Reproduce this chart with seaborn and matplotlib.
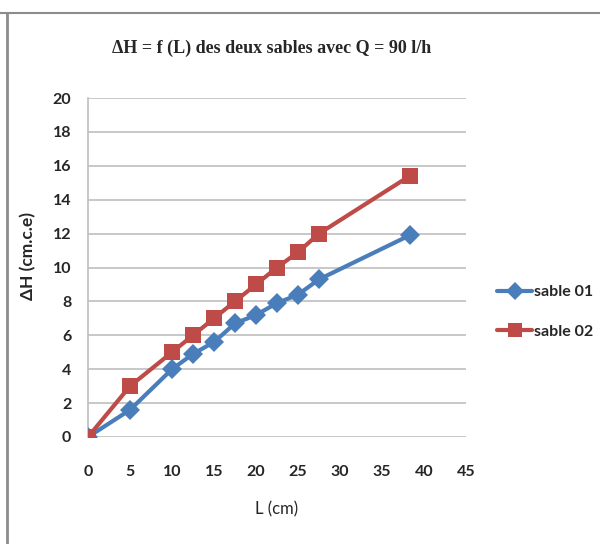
import matplotlib
matplotlib.use("Agg")
import matplotlib.pyplot as plt
import matplotlib.lines as mlines
import seaborn as sns
import pandas as pd

L_cm = [0, 5, 10, 12.5, 15, 17.5, 20, 22.5, 25, 27.5, 38.3]
sable_01 = [0, 1.6, 4.0, 4.9, 5.6, 6.7, 7.2, 7.9, 8.4, 9.3, 11.9]
sable_02 = [0, 3.0, 5.0, 6.0, 7.0, 8.0, 9.0, 10.0, 10.9, 12.0, 15.4]
series_names = ["sable 01", "sable 02"]
x_ticks = [0, 5, 10, 15, 20, 25, 30, 35, 40, 45]
y_ticks = [0, 2, 4, 6, 8, 10, 12, 14, 16, 18, 20]

df = pd.DataFrame({
    "L": L_cm * 2,
    "dH": sable_01 + sable_02,
    "serie": [series_names[0]] * len(L_cm) + [series_names[1]] * len(L_cm),
})

sns.set_style("white")
plt.rcParams["font.family"] = ["Lato", "DejaVu Sans"]

colors = {"sable 01": "#4A7EBB", "sable 02": "#BE4B48"}
fig = plt.figure(figsize=(6.0, 5.44), dpi=100)
ax = fig.add_axes([88/600, 1 - 437/544, (466-88)/600, (437-98)/544])

sns.lineplot(data=df, x="L", y="dH", hue="serie", style="serie",
             palette=colors, markers={"sable 01": "D", "sable 02": "s"},
             dashes=False, linewidth=3, markersize=10, markeredgewidth=0,
             ax=ax, legend=False, zorder=3)
for line in ax.lines:
    if line.get_marker() == "s":
        line.set_markersize(11)

ax.set_xlim(0, 45)
ax.set_ylim(0, 20)
ax.set_xticks(x_ticks)
ax.set_yticks(y_ticks)
ax.set_xticklabels([str(v) for v in x_ticks], fontsize=11.5, fontweight="bold")
ax.set_yticklabels([str(v) for v in y_ticks], fontsize=11.5, fontweight="bold")
ax.tick_params(axis="both", length=0)
ax.tick_params(axis="y", pad=12)
ax.tick_params(axis="x", pad=20)
ax.yaxis.grid(True, color="#BFBFBF", linewidth=1.2)
ax.xaxis.grid(False)
for s in ["top", "right", "bottom"]:
    ax.spines[s].set_visible(False)
ax.spines["left"].set_color("#BFBFBF")
ax.spines["left"].set_linewidth(1.2)

ax.set_xlabel("L (cm)", fontsize=12, labelpad=16)
ax.set_ylabel("ΔH (cm.c.e)", fontsize=12.5, fontweight="bold")
ax.yaxis.set_label_coords((36 - 88) / 378, (437 - 256) / 339)

fig.text(272/600, 1 - 48/544, "ΔH = f (L) des deux sables avec Q = 90 l/h",
         ha="center", va="center", fontsize=13, fontweight="bold",
         family=["Liberation Serif", "DejaVu Serif"])

handles = [
    mlines.Line2D([], [], color=colors["sable 01"], marker="D", linewidth=3,
                  markersize=9, markeredgewidth=0),
    mlines.Line2D([], [], color=colors["sable 02"], marker="s", linewidth=3,
                  markersize=10, markeredgewidth=0),
]
fig.legend(handles, series_names, loc="center left",
           bbox_to_anchor=(497/600, 1 - 312/544), frameon=False,
           prop={"size": 11.5, "weight": "bold"}, handlelength=2.2,
           handletextpad=0.1, labelspacing=1.6, borderpad=0, borderaxespad=0)

# chart frame
fig.add_artist(mlines.Line2D([7/600, 7/600], [0, 1 - 13/544], color="#8C8C8C",
                             linewidth=2, transform=fig.transFigure))
fig.add_artist(mlines.Line2D([0, 1], [1 - 13/544, 1 - 13/544], color="#8C8C8C",
                             linewidth=1.5, transform=fig.transFigure))

fig.savefig("out.png", dpi=100)
